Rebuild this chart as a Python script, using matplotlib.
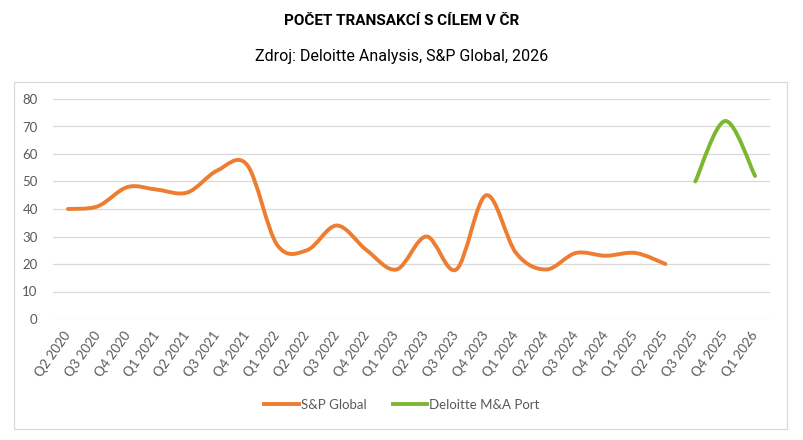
import matplotlib

matplotlib.use("Agg")

import matplotlib.pyplot as plt
import numpy as np
from matplotlib.lines import Line2D
from matplotlib.patches import PathPatch, Rectangle
from matplotlib.path import Path

quarters = [
    "Q2 2020", "Q3 2020", "Q4 2020", "Q1 2021", "Q2 2021", "Q3 2021",
    "Q4 2021", "Q1 2022", "Q2 2022", "Q3 2022", "Q4 2022", "Q1 2023",
    "Q2 2023", "Q3 2023", "Q4 2023", "Q1 2024", "Q2 2024", "Q3 2024",
    "Q4 2024", "Q1 2025", "Q2 2025", "Q3 2025", "Q4 2025", "Q1 2026",
]
sp_global = [40, 41, 48, 47, 46, 54, 56, 27, 25, 34, 25, 18,
             30, 18, 45, 24, 18, 24, 23, 24, 20]
deloitte = [50, 72, 52]
deloitte_start = 21  # index of Q3 2025

ORANGE = "#ED7D31"
GREEN = "#7CB82F"
GREY = "#595959"
GRID = "#D9D9D9"
TICK_FONT = ["Lato", "DejaVu Sans"]
TITLE_FONT = ["Roboto", "DejaVu Sans"]


def smooth_path(xs, ys):
    # Excel-style smoothed line: cubic Bezier segments through every point
    pts = np.column_stack([xs, ys]).astype(float)
    ext = np.vstack([pts[0], pts, pts[-1]])
    verts = [pts[0]]
    codes = [Path.MOVETO]
    for i in range(len(pts) - 1):
        p0, p1, p2, p3 = ext[i], ext[i + 1], ext[i + 2], ext[i + 3]
        verts += [p1 + (p2 - p0) / 6, p2 - (p3 - p1) / 6, p2]
        codes += [Path.CURVE4] * 3
    return Path(verts, codes)


def add_series(ax, xs, ys, color):
    patch = PathPatch(smooth_path(xs, ys), facecolor="none", edgecolor=color,
                      linewidth=2.8, capstyle="round", joinstyle="round", zorder=3)
    ax.add_patch(patch)


fig = plt.figure(figsize=(8.04, 4.40), dpi=100)
ax = fig.add_axes([53 / 804, 1 - 319 / 440, 717 / 804, 220 / 440])

fig.patches.append(Rectangle((14 / 804, 1 - 429 / 440), 773 / 804, 347 / 440,
                             transform=fig.transFigure, facecolor="none",
                             edgecolor=GRID, linewidth=0.9))

x_sp = np.arange(len(sp_global))
x_de = np.arange(deloitte_start, deloitte_start + len(deloitte))
add_series(ax, x_sp, sp_global, ORANGE)
add_series(ax, x_de, deloitte, GREEN)

ax.set_xlim(-0.5, len(quarters) - 0.5)
ax.set_ylim(0, 80)
ax.set_yticks(range(0, 81, 10))
ax.set_xticks(range(len(quarters)))
ax.set_xticklabels(quarters, rotation=55, ha="right", va="center",
                   rotation_mode="anchor", family=TICK_FONT, fontsize=9.5, color=GREY)
for lbl in ax.get_yticklabels():
    lbl.set_family(TICK_FONT)
    lbl.set_fontsize(9.5)
    lbl.set_color(GREY)
ax.tick_params(axis="both", length=0)
ax.tick_params(axis="x", pad=10)
ax.tick_params(axis="y", pad=11)
ax.grid(axis="y", color=GRID, linewidth=0.9)
ax.set_axisbelow(True)
for side in ax.spines.values():
    side.set_visible(False)

fig.text(0.5, 1 - 21 / 440, "POČET TRANSAKCÍ S CÍLEM V ČR", ha="center", va="center",
         family=TITLE_FONT, fontweight="bold", fontsize=11, color="black")
fig.text(0.5, 1 - 57 / 440, "Zdroj: Deloitte Analysis, S&P Global, 2026", ha="center",
         va="center", family=TITLE_FONT, fontsize=11.5, color="black")

handles = [Line2D([], [], color=ORANGE, linewidth=2.8),
           Line2D([], [], color=GREEN, linewidth=2.8)]
fig.legend(handles, ["S&P Global", "Deloitte M&A Port"], loc="center",
           bbox_to_anchor=(0.5, 1 - 405 / 440), ncol=2, frameon=False,
           prop={"family": TICK_FONT, "size": 9.5}, labelcolor=GREY,
           handlelength=2.6, handletextpad=0.15, columnspacing=2.0)

fig.savefig("out.png", dpi=100)
plt.close(fig)
